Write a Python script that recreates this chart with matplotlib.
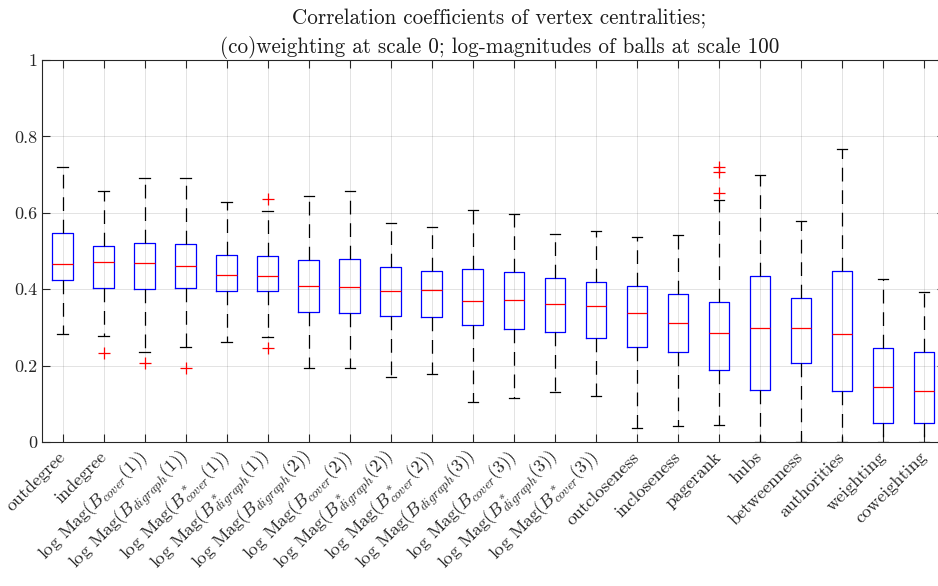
import matplotlib
matplotlib.use("Agg")
import matplotlib.pyplot as plt
from matplotlib import rcParams

rcParams["font.family"] = "serif"
rcParams["font.serif"] = ["cmr10"]
rcParams["mathtext.fontset"] = "cm"
rcParams["axes.unicode_minus"] = False
rcParams["axes.formatter.use_mathtext"] = True

labels = [
    "outdegree",
    "indegree",
    r"log Mag($B_{cover}(1)$)",
    r"log Mag($B_{digraph}(1)$)",
    r"log Mag($B^*_{cover}(1)$)",
    r"log Mag($B^*_{digraph}(1)$)",
    r"log Mag($B_{digraph}(2)$)",
    r"log Mag($B_{cover}(2)$)",
    r"log Mag($B^*_{digraph}(2)$)",
    r"log Mag($B^*_{cover}(2)$)",
    r"log Mag($B_{digraph}(3)$)",
    r"log Mag($B_{cover}(3)$)",
    r"log Mag($B^*_{digraph}(3)$)",
    r"log Mag($B^*_{cover}(3)$)",
    "outcloseness",
    "incloseness",
    "pagerank",
    "hubs",
    "betweenness",
    "authorities",
    "weighting",
    "coweighting",
]

whishi = [0.721, 0.658, 0.692, 0.692, 0.629, 0.605, 0.645, 0.658, 0.572, 0.562, 0.607,
          0.598, 0.544, 0.553, 0.537, 0.541, 0.634, 0.700, 0.579, 0.766, 0.427, 0.393]
q3 = [0.546, 0.512, 0.521, 0.518, 0.490, 0.488, 0.477, 0.479, 0.459, 0.448, 0.453,
      0.446, 0.430, 0.419, 0.408, 0.387, 0.367, 0.435, 0.376, 0.447, 0.245, 0.235]
med = [0.466, 0.470, 0.468, 0.461, 0.437, 0.435, 0.409, 0.405, 0.395, 0.398, 0.369,
       0.373, 0.360, 0.355, 0.337, 0.311, 0.285, 0.298, 0.298, 0.283, 0.145, 0.134]
q1 = [0.424, 0.402, 0.400, 0.402, 0.394, 0.394, 0.340, 0.338, 0.329, 0.326, 0.307,
      0.296, 0.287, 0.273, 0.248, 0.236, 0.188, 0.136, 0.207, 0.134, 0.049, 0.051]
whislo = [0.284, 0.277, 0.236, 0.249, 0.261, 0.274, 0.195, 0.193, 0.169, 0.177, 0.106,
          0.114, 0.130, 0.120, 0.036, 0.041, 0.045, 0.0, 0.0, 0.0, 0.0, 0.0]
fliers = [[], [0.234], [0.208], [0.195], [], [0.637, 0.247], [], [], [], [], [],
          [], [], [], [], [], [0.721, 0.708, 0.651], [], [], [], [], []]

yticks = [0, 0.2, 0.4, 0.6, 0.8, 1]
yticklabels = ["0", "0.2", "0.4", "0.6", "0.8", "1"]

stats = []
for i in range(len(labels)):
    stats.append(dict(med=med[i], q1=q1[i], q3=q3[i], whislo=whislo[i],
                      whishi=whishi[i], fliers=fliers[i]))

positions = list(range(1, len(labels) + 1))

fig = plt.figure(figsize=(9.38, 5.86), dpi=100)
# axes runs slightly past the right edge of the figure, like the reference crop
ax = fig.add_axes([42 / 938, 144 / 586, 902.5 / 938, 382 / 586])

ax.bxp(
    stats,
    positions=positions,
    widths=0.5,
    capwidths=0.25,
    showfliers=True,
    boxprops=dict(color="blue", lw=0.9),
    whiskerprops=dict(color="black", lw=0.9, linestyle=(0, (11, 7))),
    capprops=dict(color="black", lw=0.9),
    medianprops=dict(color="red", lw=0.9),
    flierprops=dict(marker="+", markeredgecolor="red", markersize=8, markeredgewidth=0.9,
                    linestyle="none"),
)

ax.set_xlim(0.5, len(labels) + 0.5)
ax.set_ylim(0, 1)
ax.set_yticks(yticks)
ax.set_yticklabels(yticklabels)
ax.set_xticks(positions)
ax.set_xticklabels(labels, rotation=45, ha="right", va="center", rotation_mode="anchor",
                   fontsize=14.5)

ax.grid(axis="both", color="0.15", alpha=0.13, lw=0.7)
ax.set_axisbelow(True)
for s in ax.spines.values():
    s.set_color("0.15")
    s.set_linewidth(0.8)
ax.tick_params(direction="in", top=True, right=True, length=5.5, width=0.8,
               color="0.15", labelsize=13, labelcolor="0.15")
ax.tick_params(axis="x", pad=9)

ax.set_title("Correlation coefficients of vertex centralities;\n"
             "(co)weighting at scale 0; log-magnitudes of balls at scale 100",
             fontsize=15.2, color="0.1", linespacing=1.5, pad=5, x=0.507)

plt.savefig("out.png", dpi=100)
